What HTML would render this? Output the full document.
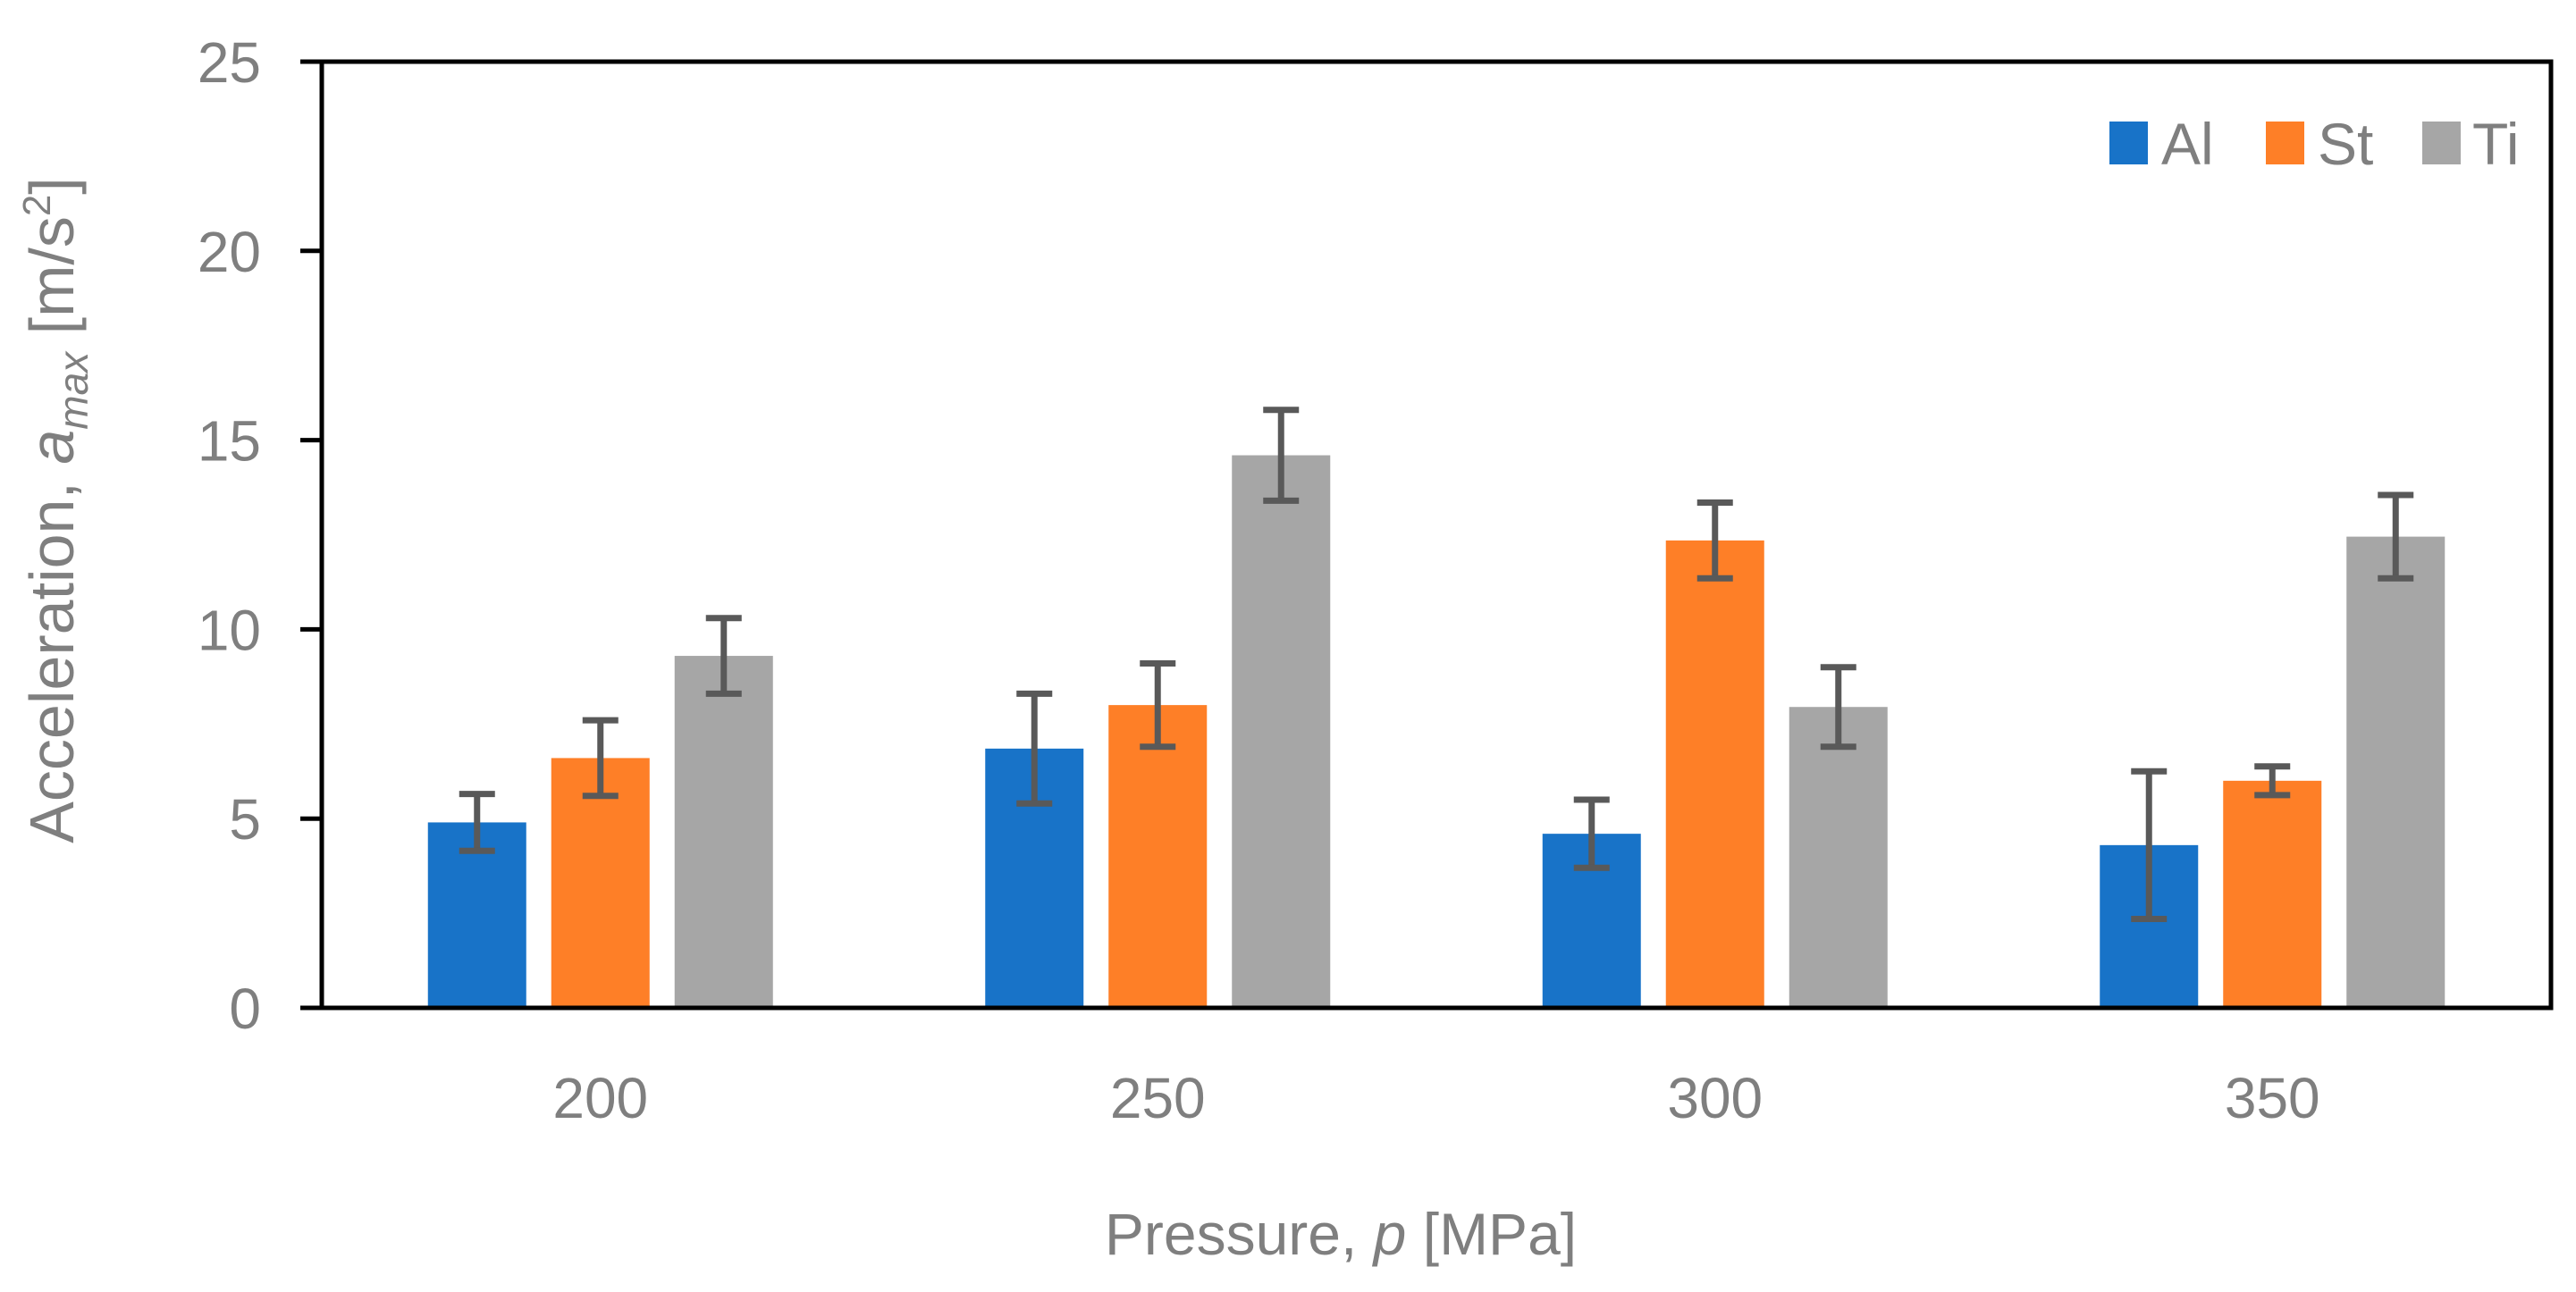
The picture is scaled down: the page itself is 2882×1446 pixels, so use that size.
<!DOCTYPE html>
<html><head><meta charset="utf-8"><style>
body{margin:0;background:#fff;}
svg{display:block;font-family:"Liberation Sans",sans-serif;}
</style></head><body>
<svg id="chart" width="2882" height="1446" viewBox="0 0 2882 1446" xmlns="http://www.w3.org/2000/svg">
<g id="bars"></g>
<g id="errs"></g>
<g id="axes"></g>
<g id="labels"></g>
<text x="82" y="571" transform="rotate(-90 82 571)" text-anchor="middle" font-size="70" fill="#7f7f7f">Acceleration, <tspan font-style="italic">a</tspan><tspan font-style="italic" font-size="46" dy="16">max</tspan><tspan dy="-16"> [m/s</tspan><tspan font-size="44" dy="-26">2</tspan><tspan dy="26">]</tspan></text>
<text x="1500" y="1404" text-anchor="middle" font-size="66" fill="#7f7f7f">Pressure, <tspan font-style="italic">p</tspan> [MPa]</text>
<g>
<rect x="2360" y="136" width="43" height="48" fill="#1873c8"/>
<text x="2418" y="184" font-size="66" fill="#7f7f7f">Al</text>
<rect x="2535" y="136" width="43" height="48" fill="#fe7f27"/>
<text x="2593" y="184" font-size="66" fill="#7f7f7f">St</text>
<rect x="2710" y="136" width="43" height="48" fill="#a6a6a6"/>
<text x="2766" y="184" font-size="66" fill="#7f7f7f">Ti</text>
</g>
</svg>
<script>
const categories = ["200", "250", "300", "350"];
const seriesNames = ["Al", "St", "Ti"];
const alValues = [4.9, 6.85, 4.6, 4.3];
const stValues = [6.6, 8.0, 12.35, 6.0];
const tiValues = [9.3, 14.6, 7.95, 12.45];
const alErrors = [0.75, 1.45, 0.9, 1.95];
const stErrors = [1.0, 1.1, 1.0, 0.38];
const tiErrors = [1.0, 1.2, 1.05, 1.1];
const yTicks = [0, 5, 10, 15, 20, 25];

const NS = "http://www.w3.org/2000/svg";
const L = 360, R = 2854, T = 69, B = 1128, YMAX = 25;
const colors = ["#1873c8", "#fe7f27", "#a6a6a6"];
const values = [alValues, stValues, tiValues];
const errors = [alErrors, stErrors, tiErrors];
function yScale(v){ return B - (v / YMAX) * (B - T); }
function xCenter(i){ return L + (i + 0.5) * (R - L) / categories.length; }
function mk(tag, attrs, parent){
  const e = document.createElementNS(NS, tag);
  for (const k in attrs) e.setAttribute(k, attrs[k]);
  parent.appendChild(e); return e;
}
const gb = document.getElementById('bars'), ge = document.getElementById('errs'),
      ga = document.getElementById('axes'), gl = document.getElementById('labels');
const barW = 110, step = 138;
categories.forEach((c, i) => {
  values.forEach((arr, s) => {
    const cx = xCenter(i) + (s - 1) * step;
    const y = yScale(arr[i]);
    const r = mk('rect', {x: cx - barW/2, y: y, width: barW, height: B - y, fill: colors[s]}, gb);
    
    
    const e = errors[s][i];
    const y1 = yScale(arr[i] + e), y2 = yScale(arr[i] - e);
    const g = mk('g', {stroke: '#595959', 'stroke-width': 7}, ge);
    
    
    mk('line', {x1: cx, x2: cx, y1: y1, y2: y2}, g);
    mk('line', {x1: cx - 20, x2: cx + 20, y1: y1, y2: y1}, g);
    mk('line', {x1: cx - 20, x2: cx + 20, y1: y2, y2: y2}, g);
  });
  const t = mk('text', {x: xCenter(i), y: 1251, 'text-anchor': 'middle', 'font-size': 64, fill: '#7f7f7f'}, gl);
  t.textContent = c;
  
  
});
const frame = mk('rect', {x: L, y: T, width: R - L, height: B - T, fill: 'none', stroke: '#000', 'stroke-width': 5}, ga);


yTicks.forEach(v => {
  const y = yScale(v);
  const tk = mk('line', {x1: 336, x2: L, y1: y, y2: y, stroke: '#000', 'stroke-width': 5}, ga);
  
  
  const t = mk('text', {x: 292, y: y + 23, 'text-anchor': 'end', 'font-size': 64, fill: '#7f7f7f'}, gl);
  t.textContent = v;
  
  
});
</script>
</body></html>
